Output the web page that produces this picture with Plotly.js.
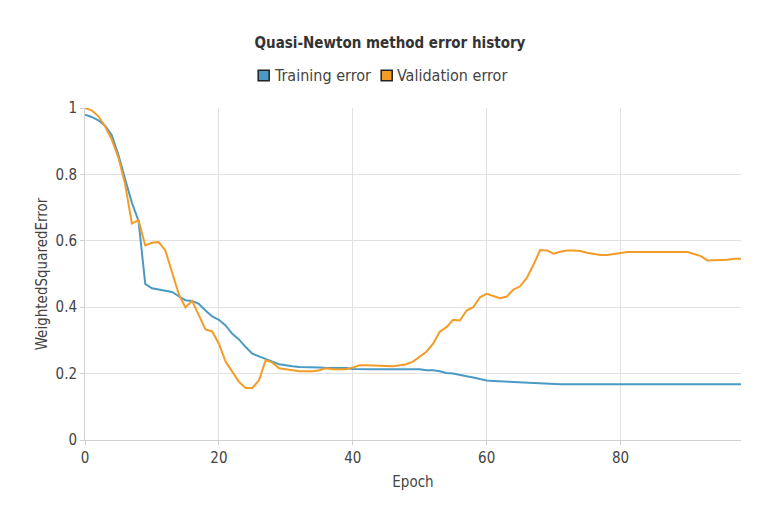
<!DOCTYPE html>
<html>
<head>
<meta charset="utf-8">
<script src="https://cdn.plot.ly/plotly-3.0.1.min.js"></script>
<style>html,body{margin:0;padding:0;background:#fff;}#chart{width:780px;height:520px;}</style>
</head>
<body>
<div id="chart"></div>
<script>
const epochs = Array.from({length: 99}, (_, i) => i);

const trainingError = [
  0.980, 0.973, 0.963, 0.947, 0.918, 0.858, 0.785, 0.715, 0.660, 0.470,
  0.457, 0.454, 0.451, 0.446, 0.433, 0.421, 0.419, 0.410, 0.390, 0.372,
  0.362, 0.345, 0.320, 0.303, 0.280, 0.260, 0.252, 0.243, 0.236, 0.228,
  0.224, 0.222, 0.220, 0.220, 0.220, 0.218, 0.217, 0.217, 0.217, 0.217,
  0.214, 0.213, 0.213, 0.213, 0.213, 0.213, 0.213, 0.213, 0.213, 0.213,
  0.213, 0.210, 0.210, 0.207, 0.202, 0.200, 0.197, 0.192, 0.188, 0.184,
  0.179, 0.178, 0.177, 0.174, 0.174, 0.173, 0.171, 0.171, 0.171, 0.169,
  0.168, 0.168, 0.168, 0.168, 0.168, 0.168, 0.168, 0.168, 0.168, 0.168,
  0.168, 0.168, 0.168, 0.168, 0.168, 0.168, 0.168, 0.168, 0.168, 0.168,
  0.168, 0.168, 0.168, 0.168, 0.168, 0.168, 0.168, 0.168, 0.168
];

const validationError = [
  1.000, 0.993, 0.975, 0.945, 0.905, 0.850, 0.770, 0.652, 0.662, 0.586,
  0.594, 0.596, 0.571, 0.505, 0.440, 0.399, 0.419, 0.376, 0.333, 0.327,
  0.290, 0.236, 0.205, 0.175, 0.157, 0.157, 0.180, 0.241, 0.233, 0.216,
  0.213, 0.210, 0.207, 0.207, 0.207, 0.210, 0.216, 0.213, 0.213, 0.213,
  0.218, 0.225, 0.225, 0.225, 0.225, 0.223, 0.222, 0.225, 0.228, 0.236,
  0.252, 0.266, 0.290, 0.326, 0.340, 0.362, 0.360, 0.390, 0.400, 0.430,
  0.440, 0.434, 0.427, 0.432, 0.453, 0.463, 0.488, 0.528, 0.572, 0.571,
  0.561, 0.567, 0.571, 0.571, 0.569, 0.564, 0.560, 0.557, 0.557, 0.560,
  0.563, 0.566, 0.566, 0.566, 0.566, 0.566, 0.566, 0.566, 0.566, 0.566,
  0.566, 0.560, 0.554, 0.541, 0.541, 0.543, 0.543, 0.546, 0.546
];

const seriesNames = ["Training error", "Validation error"];
const seriesColors = ["#4b9ac6", "#f39c28"];

const FONT = "DejaVu Sans Condensed, DejaVu Sans, sans-serif";

const data = [
  {x: epochs, y: trainingError, mode: "lines", name: seriesNames[0],
   line: {color: seriesColors[0], width: 2}, showlegend: false},
  {x: epochs, y: validationError, mode: "lines", name: seriesNames[1],
   line: {color: seriesColors[1], width: 2}, showlegend: false}
];

// Legend drawn as squares + labels (paper coordinates), matching the reference's compact legend
const legendY = 1.098;
const legendItems = [
  {sx0: 0.264, label: 0.2855},
  {sx0: 0.4515, label: 0.473}
];
const shapes = legendItems.map((it, i) => ({
  type: "rect", xref: "paper", yref: "paper",
  x0: it.sx0, x1: it.sx0 + 0.0168, y0: legendY - 0.016, y1: legendY + 0.016,
  fillcolor: seriesColors[i], line: {color: "#222", width: 1.5}
}));
const annotations = legendItems.map((it, i) => ({
  xref: "paper", yref: "paper", x: it.label, y: legendY, xanchor: "left", yanchor: "middle",
  text: seriesNames[i], showarrow: false, font: {family: FONT, size: 16, color: "#444"}
}));

const layout = {
  width: 780, height: 520,
  margin: {l: 85, r: 39, t: 108, b: 80},
  paper_bgcolor: "#fff", plot_bgcolor: "#fff",
  font: {family: FONT, color: "#444", size: 15},
  title: {text: "<b>Quasi-Newton method error history</b>", x: 0.5, xanchor: "center",
          y: 0.918, yanchor: "middle", font: {family: FONT, size: 15, color: "#333"}},
  showlegend: false,
  shapes: shapes,
  annotations: annotations,
  xaxis: {
    range: [0, 98], tickvals: [0, 20, 40, 60, 80], ticktext: ["0", "20", "40", "60", "80"],
    showgrid: true, gridcolor: "#e2e2e2", gridwidth: 1,
    zeroline: false, showline: true, linecolor: "#d0d0d0", linewidth: 1,
    ticks: "outside", ticklen: 4, tickcolor: "#d0d0d0",
    tickfont: {family: FONT, size: 15, color: "#444"},
    title: {text: "Epoch", font: {family: FONT, size: 15, color: "#444"}, standoff: 10}
  },
  yaxis: {
    range: [0, 1], tickvals: [0, 0.2, 0.4, 0.6, 0.8, 1], ticktext: ["0", "0.2", "0.4", "0.6", "0.8", "1"],
    showgrid: true, gridcolor: "#e2e2e2", gridwidth: 1,
    zeroline: false, showline: true, linecolor: "#d0d0d0", linewidth: 1,
    ticks: "outside", ticklen: 4, tickcolor: "#d0d0d0",
    tickfont: {family: FONT, size: 15, color: "#444"},
    title: {text: "WeightedSquaredError", font: {family: FONT, size: 15, color: "#444"}, standoff: 4}
  }
};

Plotly.newPlot("chart", data, layout, {displayModeBar: false, responsive: false});
</script>
</body>
</html>
